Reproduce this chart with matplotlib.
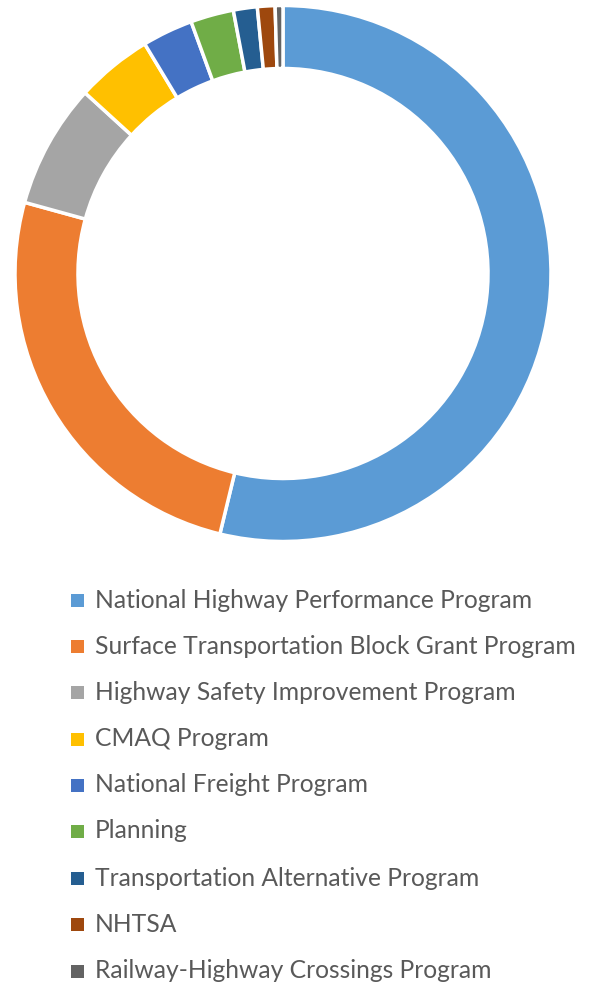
import matplotlib
matplotlib.use("Agg")
import matplotlib.pyplot as plt
from matplotlib.patches import Rectangle

# program shares (percent of total), read from the ring
programs = ["National Highway Performance Program",
            "Surface Transportation Block Grant Program",
            "Highway Safety Improvement Program",
            "CMAQ Program",
            "National Freight Program",
            "Planning",
            "Transportation Alternative Program",
            "NHTSA",
            "Railway-Highway Crossings Program"]
shares = [53.8, 25.5, 7.5, 4.6, 3.06, 2.6, 1.44, 1.06, 0.47]
colors = ["#5B9BD5", "#ED7D31", "#A5A5A5", "#FFC000", "#4472C4",
          "#70AD47", "#255E91", "#9E480E", "#636363"]

W, H = 592, 989
fig = plt.figure(figsize=(W / 100, H / 100), dpi=100)

# donut axes: square box centred on the ring
cx, cy, r = 283, 273.5, 268
ax = fig.add_axes([(cx - r) / W, (H - cy - r) / H, 2 * r / W, 2 * r / H])
ax.pie(shares, colors=colors, startangle=90, counterclock=False, radius=1,
       wedgeprops=dict(width=0.235, edgecolor="white", linewidth=2.5))
ax.set_xlim(-1, 1)
ax.set_ylim(-1, 1)
ax.set_aspect("equal")
ax.axis("off")

# legend, one row per program
row_y = [600, 646, 692, 739, 785, 831, 878, 924, 971]
for lab, col, y in zip(programs, colors, row_y):
    fig.patches.append(Rectangle((71 / W, 1 - (y + 6.5) / H), 13 / W, 13 / H,
                                 transform=fig.transFigure, facecolor=col,
                                 edgecolor="none"))
    fig.text(95 / W, 1 - y / H, lab, fontsize=17.7, family="Lato",
             color="#595959", va="center", ha="left")

fig.savefig("out.png", dpi=100)
